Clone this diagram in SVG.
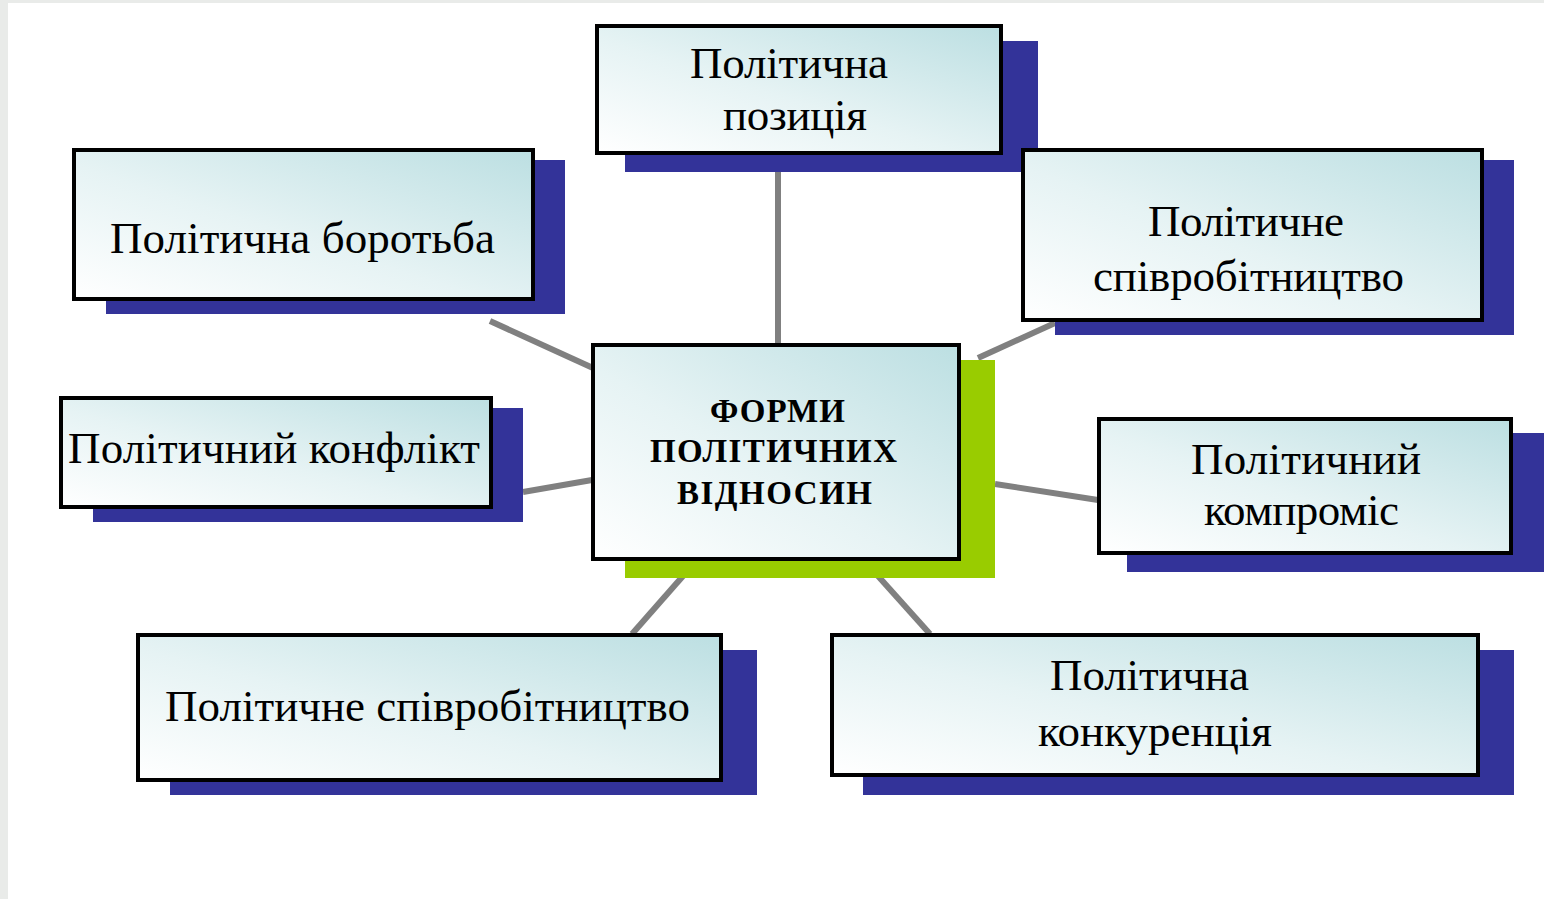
<svg xmlns="http://www.w3.org/2000/svg" width="1544" height="899" viewBox="0 0 1544 899">
<defs>
<linearGradient id="g" x1="0" y1="1" x2="1" y2="0">
<stop offset="0" stop-color="#ffffff"/>
<stop offset="0.45" stop-color="#e6f3f4"/>
<stop offset="1" stop-color="#bcdfe2"/>
</linearGradient>
<style>
.box{fill:url(#g);stroke:#000;stroke-width:4}
.sh{fill:#333399}
.gr{fill:#99cc00}
.t{font-family:"Liberation Serif","Times New Roman",serif;font-size:45px;fill:#000;text-anchor:middle}
.c{font-family:"Liberation Serif","Times New Roman",serif;font-size:33px;font-weight:bold;fill:#000;text-anchor:middle}
.ln{stroke:#808080;stroke-width:6;fill:none}
</style>
</defs>
<rect x="0" y="0" width="1544" height="899" fill="#e9ebe9"/>
<rect x="8" y="3" width="1536" height="896" fill="#ffffff"/>
<g id="connectors">
<line class="ln" x1="778" y1="170" x2="778" y2="345"/>
<line class="ln" x1="490" y1="321" x2="593" y2="368"/>
<line class="ln" x1="978" y1="358" x2="1055" y2="323"/>
<line class="ln" x1="523" y1="492" x2="592" y2="480"/>
<line class="ln" x1="995" y1="484" x2="1098" y2="500"/>
<line class="ln" x1="683" y1="576" x2="632" y2="634"/>
<line class="ln" x1="878" y1="576" x2="930" y2="634"/>
</g>
<g id="n-position">
<rect class="sh" x="625" y="41" width="413" height="131"/>
<rect class="box" x="597" y="26" width="404" height="127"/>
<text class="t" x="789" y="78" textLength="198">Політична</text>
<text class="t" x="795" y="130" textLength="144">позиція</text>
</g>
<g id="n-struggle">
<rect class="sh" x="106" y="160" width="459" height="154"/>
<rect class="box" x="74" y="150" width="459" height="149"/>
<text class="t" x="302.5" y="253" textLength="385">Політична боротьба</text>
</g>
<g id="n-coop-right">
<rect class="sh" x="1055" y="160" width="459" height="175"/>
<rect class="box" x="1023" y="150" width="459" height="170"/>
<text class="t" x="1246" y="236" textLength="196">Політичне</text>
<text class="t" x="1248.5" y="291" textLength="311">співробітництво</text>
</g>
<g id="n-conflict">
<rect class="sh" x="93" y="408" width="430" height="114"/>
<rect class="box" x="61" y="398" width="430" height="109"/>
<text class="t" x="274" y="463" textLength="412">Політичний конфлікт</text>
</g>
<g id="n-center">
<rect class="gr" x="625" y="360" width="370" height="218"/>
<rect class="box" x="593" y="345" width="366" height="214"/>
<text class="c" x="777.5" y="422" textLength="135">ФОРМИ</text>
<text class="c" x="773.5" y="462" textLength="247">ПОЛІТИЧНИХ</text>
<text class="c" x="774.5" y="504" textLength="195">ВІДНОСИН</text>
</g>
<g id="n-compromise">
<rect class="sh" x="1127" y="433" width="417" height="139"/>
<rect class="box" x="1099" y="419" width="412" height="134"/>
<text class="t" x="1306" y="474" textLength="230">Політичний</text>
<text class="t" x="1301.5" y="525" textLength="195">компроміс</text>
</g>
<g id="n-coop-bottom">
<rect class="sh" x="170" y="650" width="587" height="145"/>
<rect class="box" x="138" y="635" width="583" height="145"/>
<text class="t" x="427.5" y="721" textLength="525">Політичне співробітництво</text>
</g>
<g id="n-competition">
<rect class="sh" x="863" y="650" width="651" height="145"/>
<rect class="box" x="832" y="635" width="646" height="140"/>
<text class="t" x="1149.5" y="690" textLength="199">Політична</text>
<text class="t" x="1155" y="746" textLength="234">конкуренція</text>
</g>
</svg>
